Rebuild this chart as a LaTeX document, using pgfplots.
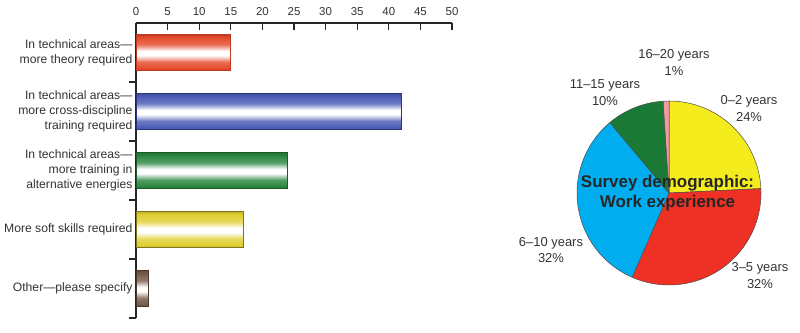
\documentclass[border=0pt]{standalone}
\usepackage{pgfplots}
\pgfplotsset{compat=1.18}
\usepackage{fontspec}
\setmainfont{Liberation Sans}
\definecolor{barred}{HTML}{E54A2A}
\definecolor{barredD}{HTML}{B83A22}
\definecolor{barblue}{HTML}{4B5CB6}
\definecolor{barblueD}{HTML}{2A3580}
\definecolor{bargreen}{HTML}{2A8640}
\definecolor{bargreenD}{HTML}{1D5A2A}
\definecolor{baryellow}{HTML}{E0CF30}
\definecolor{baryellowD}{HTML}{7F7420}
\definecolor{barbrown}{HTML}{775A48}
\definecolor{barbrownD}{HTML}{4A372C}
\definecolor{pieyellow}{HTML}{F5EC1E}
\definecolor{piered}{HTML}{EE3124}
\definecolor{pieblue}{HTML}{00AEEF}
\definecolor{piegreen}{HTML}{1A7A35}
\definecolor{piepink}{HTML}{F29A9E}
\definecolor{txt}{HTML}{333333}
\newcommand\barshade[2]{\pgfdeclareverticalshading{#1}{100bp}{color(0bp)=(#2!85!black); color(25bp)=(#2!85!black); color(28bp)=(#2); color(37bp)=(#2!80!white); color(46bp)=(white); color(52bp)=(white); color(61bp)=(#2!80!white); color(71bp)=(#2); color(75bp)=(#2!85!black); color(100bp)=(#2!85!black)}}
\barshade{shred}{barred}
\barshade{shblue}{barblue}
\barshade{shgreen}{bargreen}
\barshade{shyellow}{baryellow}
\barshade{shbrown}{barbrown}
\begin{document}
\begin{tikzpicture}[x=1bp,y=1bp]
\path[use as bounding box] (0,0) rectangle (800,332);
\begin{axis}[
  at={(136bp,14bp)}, anchor=south west,
  scale only axis, width=316bp, height=295bp,
  xmin=0, xmax=50, ymin=-0.5, ymax=4.5, y dir=reverse,
  axis x line=top, axis y line=left,
  axis line style={-, line width=1.2bp, color=black!85},
  tick align=inside,
  xtick={0,5,...,50}, minor xtick={0,5,...,50},
  ytick={0,1,2,3,4}, minor ytick={0.5,1.5,2.5,3.5,4.5},
  major tick length=0pt, minor tick length=7bp,
  minor tick style={line width=1.2bp, black!85},
  yticklabels={{In technical areas—\\more theory required},
               {In technical areas—\\more cross-discipline\\training required},
               {In technical areas—\\more training in\\alternative energies},
               {More soft skills required},
               {Other—please specify}},
  yticklabel style={align=right, font=\fontsize{12.2}{14.8}\selectfont, text=txt},
  xticklabel style={font=\fontsize{11.5}{13}\selectfont, text=txt, yshift=4bp},
  /pgf/number format/assume math mode=true,
  xbar, bar shift=0pt, bar width=36bp,
  clip=false,
]
\addplot[xbar, draw=barredD, line width=0.7bp, shading=shred] coordinates {(15,0)};
\addplot[xbar, draw=barblueD, line width=0.7bp, shading=shblue] coordinates {(42,1)};
\addplot[xbar, draw=bargreenD, line width=0.7bp, shading=shgreen] coordinates {(24,2)};
\addplot[xbar, draw=baryellowD, line width=0.7bp, shading=shyellow] coordinates {(17,3)};
\addplot[xbar, draw=barbrownD, line width=0.7bp, shading=shbrown] coordinates {(2,4)};
\end{axis}

\begin{axis}[
  at={(669bp,139bp)}, anchor=origin,
  scale only axis, width=184bp, height=184bp,
  xmin=-1, xmax=1, ymin=-1, ymax=1,
  hide axis, clip=false,
]
\addplot[draw=none] coordinates {(0,0)};
\pgfplotsextra{
  \gdef\cum{0}
  \def\total{99}
  \foreach \v/\c in {24/pieyellow, 32/piered, 32/pieblue, 10/piegreen, 1/piepink} {
    \pgfmathsetmacro\a{90-(\cum/\total)*360}
    \pgfmathsetmacro\b{90-((\cum+\v)/\total)*360}
    \filldraw[fill=\c, draw=black!70, line width=0.5bp]
      (axis cs:0,0) -- ([shift={(\a:92bp)}]axis cs:0,0)
      arc[start angle=\a, end angle=\b, radius=92bp] -- cycle;
    \pgfmathsetmacro\n{\cum+\v}
    \xdef\cum{\n}
  }
}
\node[align=center, font=\fontsize{13}{17}\selectfont, text=txt] at (axis cs:0.054,1.418) {16–20 years\\1\%};
\node[align=center, font=\fontsize{13}{17}\selectfont, text=txt] at (axis cs:-0.696,1.090) {11–15 years\\10\%};
\node[align=center, font=\fontsize{13}{17}\selectfont, text=txt] at (axis cs:0.870,0.916) {0–2 years\\24\%};
\node[align=center, font=\fontsize{13}{17}\selectfont, text=txt] at (axis cs:-1.283,-0.620) {6–10 years\\32\%};
\node[align=center, font=\fontsize{13}{17}\selectfont, text=txt] at (axis cs:0.989,-0.899) {3–5 years\\32\%};
\node[align=center, font=\bfseries\fontsize{17}{20}\selectfont, text=black!85] at (axis cs:-0.016,0) {Survey demographic:\\Work experience};
\end{axis}
\end{tikzpicture}
\end{document}
